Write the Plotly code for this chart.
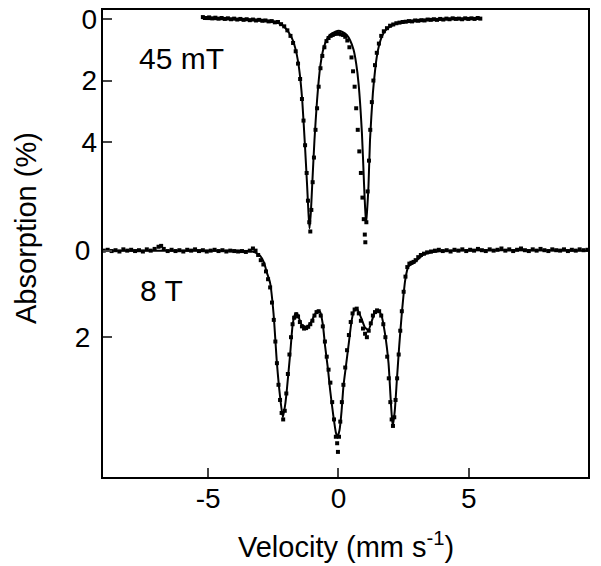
"""
Mossbauer spectra at 45 mT (top) and 8 T (bottom): data points plus fit line.
"""

import plotly.graph_objects as go

# --- Data ---

# 45 mT spectrum, fit line
fit45_v = [-5.20, -4.00, -3.00, -2.50, -2.20, -1.97, -1.80, -1.71, -1.60, -1.52,
           -1.45, -1.39, -1.29, -1.20, -1.15, -1.11, -1.06, -1.01, -0.92, -0.82,
           -0.70, -0.60, -0.51, -0.38, -0.25, -0.12, 0.00, 0.15, 0.32, 0.45,
           0.58, 0.68, 0.77, 0.90, 0.98, 1.02, 1.06, 1.10, 1.15, 1.21,
           1.32, 1.40, 1.47, 1.56, 1.66, 1.80, 1.98, 2.30, 2.62, 3.00,
           3.51, 4.50, 5.45]
fit45_a = [0.00, 0.01, 0.04, 0.09, 0.17, 0.36, 0.60, 0.79, 1.15, 1.55,
           2.05, 2.63, 4.03, 5.45, 6.30, 6.80, 6.30, 5.45, 3.93, 2.63,
           1.55, 1.05, 0.79, 0.57, 0.47, 0.41, 0.38, 0.42, 0.52, 0.70,
           1.00, 1.45, 2.09, 3.71, 5.34, 6.10, 6.63, 6.20, 5.45, 3.93,
           2.41, 1.70, 1.23, 0.85, 0.58, 0.38, 0.25, 0.13, 0.09, 0.05,
           0.02, 0.00, -0.01]

# 45 mT spectrum, measured points
dat45_v = [-5.20, -5.08, -4.96, -4.84, -4.72, -4.60, -4.48, -4.36, -4.24, -4.12,
           -4.00, -3.88, -3.76, -3.64, -3.52, -3.40, -3.28, -3.16, -3.04, -2.92,
           -2.80, -2.68, -2.56, -2.44, -2.32, -2.20, -2.08, -1.96, -1.84, -1.74,
           -1.64, -1.55, -1.47, -1.40, -1.34, -1.28, -1.22, -1.17, -1.12, -1.08,
           -1.04, -0.99, -0.94, -0.88, -0.82, -0.76, -0.69, -0.62, -0.54, -0.46,
           -0.38, -0.30, -0.22, -0.14, -0.06, 0.02, 0.10, 0.18, 0.26, 0.34,
           0.42, 0.50, 0.56, 0.62, 0.68, 0.74, 0.80, 0.86, 0.92, 0.97,
           1.01, 1.03, 1.07, 1.12, 1.17, 1.22, 1.28, 1.34, 1.40, 1.47,
           1.55, 1.64, 1.74, 1.86, 1.98, 2.10, 2.22, 2.34, 2.46, 2.58,
           2.70, 2.82, 2.94, 3.06, 3.18, 3.30, 3.42, 3.54, 3.66, 3.78,
           3.90, 4.02, 4.14, 4.26, 4.38, 4.50, 4.62, 4.74, 4.86, 4.98,
           5.10, 5.22, 5.34, 5.44]
dat45_a = [-0.06, -0.03, -0.05, -0.02, -0.04, -0.01, -0.03, 0.00, -0.02, 0.01,
           -0.01, 0.02, 0.00, 0.03, 0.01, 0.04, 0.02, 0.05, 0.03, 0.06,
           0.05, 0.08, 0.07, 0.11, 0.10, 0.17, 0.24, 0.37, 0.55, 0.78,
           1.05, 1.45, 1.95, 2.60, 3.30, 4.10, 5.00, 5.90, 6.60, 6.90,
           6.20, 5.30, 4.50, 3.60, 2.90, 2.20, 1.60, 1.20, 0.92, 0.72,
           0.62, 0.55, 0.52, 0.49, 0.47, 0.48, 0.50, 0.52, 0.58, 0.70,
           0.92, 1.25, 1.70, 2.20, 2.90, 3.60, 4.30, 5.00, 5.80, 6.50,
           7.00, 7.25, 6.60, 5.60, 4.60, 3.60, 2.70, 2.00, 1.50, 1.10,
           0.80, 0.55, 0.40, 0.30, 0.22, 0.18, 0.14, 0.12, 0.10, 0.09,
           0.07, 0.08, 0.05, 0.06, 0.04, 0.05, 0.02, 0.03, 0.01, 0.03,
           0.00, 0.02, -0.01, 0.01, -0.02, 0.00, -0.01, 0.01, -0.02, 0.00,
           -0.02, 0.00, -0.03, -0.01]

# 8 T spectrum, fit line
fit8_v = [-9.00, -4.00, -3.50, -3.20, -3.00, -2.85, -2.75, -2.62, -2.49, -2.36,
          -2.24, -2.13, -2.03, -1.98, -1.85, -1.75, -1.66, -1.59, -1.50, -1.40,
          -1.21, -1.05, -0.90, -0.78, -0.70, -0.60, -0.51, -0.40, -0.32, -0.20,
          -0.10, -0.04, 0.04, 0.12, 0.19, 0.28, 0.38, 0.51, 0.60, 0.68,
          0.78, 0.90, 1.02, 1.15, 1.28, 1.40, 1.53, 1.65, 1.78, 1.92,
          2.00, 2.08, 2.16, 2.24, 2.33, 2.43, 2.56, 2.68, 2.94, 3.26,
          3.64, 4.20, 9.60]
fit8_a = [0.00, 0.00, 0.01, 0.04, 0.12, 0.28, 0.50, 0.75, 1.45, 2.60,
          3.37, 3.85, 3.50, 3.22, 2.37, 1.68, 1.47, 1.45, 1.58, 1.72,
          1.76, 1.65, 1.47, 1.39, 1.42, 1.70, 2.22, 2.75, 3.22, 3.80,
          4.20, 4.30, 4.15, 3.70, 3.14, 2.70, 2.22, 1.60, 1.38, 1.33,
          1.42, 1.60, 1.78, 1.83, 1.62, 1.43, 1.39, 1.50, 1.90, 2.60,
          3.40, 4.06, 3.70, 2.99, 2.20, 1.45, 0.68, 0.37, 0.26, 0.09,
          0.03, 0.00, 0.00]

# 8 T spectrum, measured points
dat8_v = [-9.00, -8.85, -8.70, -8.55, -8.40, -8.25, -8.10, -7.95, -7.80, -7.65,
          -7.50, -7.35, -7.20, -7.05, -6.90, -6.80, -6.70, -6.55, -6.40, -6.25,
          -6.10, -5.95, -5.80, -5.65, -5.50, -5.35, -5.20, -5.05, -4.90, -4.75,
          -4.60, -4.45, -4.30, -4.15, -4.00, -3.85, -3.70, -3.55, -3.40, -3.28,
          -3.18, -3.08, -2.98, -2.88, -2.78, -2.70, -2.62, -2.55, -2.48, -2.42,
          -2.36, -2.30, -2.24, -2.18, -2.12, -2.06, -2.00, -1.94, -1.88, -1.82,
          -1.76, -1.70, -1.62, -1.55, -1.48, -1.40, -1.32, -1.24, -1.16, -1.08,
          -1.00, -0.92, -0.84, -0.76, -0.68, -0.60, -0.52, -0.45, -0.38, -0.31,
          -0.24, -0.17, -0.10, -0.05, -0.02, 0.02, 0.07, 0.13, 0.19, 0.26,
          0.33, 0.40, 0.47, 0.54, 0.62, 0.70, 0.78, 0.86, 0.94, 1.02,
          1.09, 1.16, 1.24, 1.32, 1.40, 1.48, 1.56, 1.64, 1.72, 1.80,
          1.87, 1.93, 1.99, 2.04, 2.09, 2.14, 2.19, 2.25, 2.31, 2.37,
          2.43, 2.50, 2.57, 2.64, 2.72, 2.80, 2.88, 2.96, 3.06, 3.16,
          3.28, 3.40, 3.55, 3.70, 3.85, 4.00, 4.15, 4.30, 4.45, 4.60,
          4.75, 4.90, 5.05, 5.20, 5.35, 5.50, 5.65, 5.80, 5.95, 6.10,
          6.25, 6.40, 6.55, 6.70, 6.85, 7.00, 7.15, 7.30, 7.45, 7.60,
          7.75, 7.90, 8.05, 8.20, 8.35, 8.50, 8.65, 8.80, 8.95, 9.10,
          9.25, 9.40, 9.55]
dat8_a = [0.00, -0.02, 0.01, -0.01, 0.02, -0.03, 0.00, -0.02, 0.01, -0.01,
          0.02, -0.03, 0.00, -0.04, -0.09, -0.11, -0.04, 0.01, -0.02, 0.01,
          -0.01, 0.02, -0.02, 0.00, -0.03, 0.01, -0.01, 0.02, 0.00, -0.02,
          0.01, -0.01, 0.02, 0.00, 0.01, 0.02, 0.01, 0.03, 0.00, -0.05,
          0.00, 0.10, 0.22, 0.32, 0.48, 0.66, 0.85, 1.20, 1.60, 2.10,
          2.60, 3.10, 3.45, 3.75, 3.90, 3.70, 3.30, 2.85, 2.40, 2.00,
          1.70, 1.55, 1.47, 1.52, 1.65, 1.75, 1.80, 1.79, 1.76, 1.70,
          1.62, 1.50, 1.42, 1.40, 1.50, 1.75, 2.10, 2.45, 2.75, 3.05,
          3.50, 3.90, 4.30, 4.45, 4.65, 4.30, 3.95, 3.50, 3.10, 2.70,
          2.30, 1.95, 1.65, 1.45, 1.36, 1.34, 1.45, 1.62, 1.80, 1.92,
          2.00, 1.85, 1.68, 1.50, 1.42, 1.38, 1.40, 1.50, 1.70, 2.00,
          2.45, 2.95, 3.50, 3.90, 4.05, 3.85, 3.45, 2.95, 2.40, 1.85,
          1.40, 0.95, 0.60, 0.38, 0.30, 0.28, 0.26, 0.22, 0.15, 0.10,
          0.07, 0.04, 0.02, 0.00, -0.02, 0.01, -0.01, 0.02, -0.02, 0.00,
          -0.03, 0.01, -0.02, 0.00, -0.04, -0.01, 0.01, -0.03, 0.00, -0.02,
          -0.05, 0.00, -0.03, 0.01, -0.02, -0.05, -0.01, 0.01, -0.03, 0.00,
          -0.04, -0.01, 0.01, -0.03, -0.01, 0.00, -0.03, 0.01, -0.02, 0.00,
          -0.03, -0.01, -0.02]

X_TICKS = [-5, 0, 5]
X_TICKTEXT = ["-5", "0", "5"]
Y_TICKS_45 = [0, 2, 4]
Y_TICKS_8 = [0, 2]

FONT = "Liberation Sans, Arial, sans-serif"
TICK_SIZE = 28
TITLE_SIZE = 29
LABEL_SIZE = 30

fig = go.Figure()

# measured points first, fit lines on top
fig.add_trace(go.Scatter(
    x=dat45_v, y=dat45_a, yaxis="y2", mode="markers",
    marker=dict(color="black", size=4, symbol="square"),
    showlegend=False,
))
fig.add_trace(go.Scatter(
    x=fit45_v, y=fit45_a, yaxis="y2", mode="lines",
    line=dict(color="black", width=2, shape="spline", smoothing=0.6),
    showlegend=False,
))
fig.add_trace(go.Scatter(
    x=dat8_v, y=dat8_a, mode="markers",
    marker=dict(color="black", size=4, symbol="square"),
    showlegend=False,
))
fig.add_trace(go.Scatter(
    x=fit8_v, y=fit8_a, mode="lines",
    line=dict(color="black", width=2, shape="spline", smoothing=0.6),
    showlegend=False,
))

fig.add_annotation(x=-6.03, y=1.30, xref="x", yref="y2", text="45 mT",
                   showarrow=False, font=dict(size=LABEL_SIZE, color="black"))
fig.add_annotation(x=-6.79, y=0.93, xref="x", yref="y", text="8 T",
                   showarrow=False, font=dict(size=LABEL_SIZE, color="black"))
# axis titles placed by hand
fig.add_annotation(x=-0.159, y=0.533, xref="paper", yref="paper",
                   xanchor="center", yanchor="middle",
                   text="Absorption (%)", textangle=-90, showarrow=False,
                   font=dict(size=TITLE_SIZE, color="black"))
fig.add_annotation(x=0.5, y=-0.146, xref="paper", yref="paper",
                   xanchor="center", yanchor="middle",
                   text="Velocity (mm s<sup>-1</sup>)", showarrow=False,
                   font=dict(size=TITLE_SIZE, color="black"))

fig.update_layout(
    width=601, height=566,
    margin=dict(l=103, r=13, t=10, b=89),
    paper_bgcolor="white", plot_bgcolor="white",
    font=dict(family=FONT, color="black"),
    showlegend=False,
)
fig.update_xaxes(
    range=[-9.03, 9.57], automargin=False,
    tickvals=X_TICKS, ticktext=X_TICKTEXT,
    ticks="inside", ticklen=9, tickwidth=1.5,
    tickfont=dict(size=TICK_SIZE), ticklabelstandoff=-5,
    showline=True, linecolor="black", linewidth=2, mirror=True,
    showgrid=False, zeroline=False,
)
fig.update_yaxes(
    range=[5.23, -5.56], automargin=False,
    tickvals=Y_TICKS_8, ticks="inside", ticklen=9, tickwidth=1.5,
    tickfont=dict(size=TICK_SIZE), ticklabelstandoff=5,
    showline=True, linecolor="black", linewidth=2, mirror=True,
    showgrid=False, zeroline=False,
)
fig.update_layout(yaxis2=dict(
    overlaying="y", side="left", range=[14.87, -0.29], automargin=False,
    tickvals=Y_TICKS_45, ticks="inside", ticklen=9, tickwidth=1.5,
    tickfont=dict(size=TICK_SIZE, family=FONT, color="black"),
    ticklabelstandoff=5,
    showline=False, showgrid=False, zeroline=False,
))

# page body margin would shift the fixed-size figure
fig.write_html("out.html", config={"displayModeBar": False},
               post_script="document.body.style.margin='0px';")
